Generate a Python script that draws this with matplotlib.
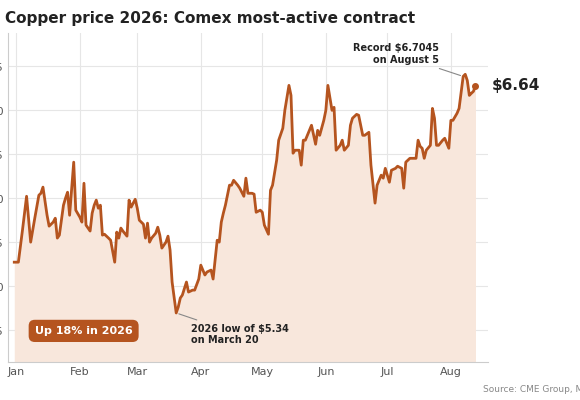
import numpy as np
import matplotlib.pyplot as plt

# trading day index (1 = Jan 2) and price in $/lb
days = [1, 3, 5, 7, 9, 11, 13, 14, 15, 17, 18, 20, 21, 22, 23, 25, 26, 27, 28, 30,
        31, 33, 34, 35, 36, 38, 39, 40, 41, 42, 43, 44, 45, 47, 48, 50, 51, 52, 53, 54,
        56, 57, 58, 60, 61, 62, 64, 65, 66, 67, 68, 70, 71, 72, 73, 75, 76, 77, 78, 80,
        81, 82, 83, 85, 86, 88, 89, 91, 92, 94, 95, 97, 98, 100, 101, 102, 103, 104, 106, 107,
        108, 110, 111, 113, 114, 115, 117, 118, 119, 121, 122, 123, 125, 126, 127, 129, 130, 132, 133, 135,
        136, 137, 138, 140, 141, 142, 143, 145, 146, 148, 149, 150, 152, 153, 154, 156, 157, 158, 160, 161,
        162, 164, 165, 166, 168, 169, 171, 172, 174, 175, 177, 178, 180, 181, 182, 184, 185, 187, 188, 190,
        191, 192, 194, 195, 197, 198, 199, 200, 201, 202, 204, 205, 206, 207, 208, 210, 211, 213, 214, 215,
        217, 218, 220, 221, 222, 223, 224, 225, 226]
price = [5.636, 5.636, 5.818, 6.011, 5.750, 5.886, 6.017, 6.028, 6.063, 5.903, 5.841, 5.864, 5.886, 5.773, 5.790, 5.960, 6.000, 6.034, 5.903, 6.205,
         5.932, 5.892, 5.864, 6.085, 5.847, 5.813, 5.915, 5.960, 5.989, 5.943, 5.960, 5.790, 5.795, 5.773, 5.761, 5.636, 5.807, 5.773, 5.830, 5.813,
         5.784, 5.989, 5.949, 5.994, 5.943, 5.875, 5.852, 5.773, 5.858, 5.750, 5.773, 5.801, 5.835, 5.790, 5.716, 5.750, 5.784, 5.705, 5.523, 5.347,
         5.381, 5.432, 5.449, 5.523, 5.466, 5.477, 5.477, 5.540, 5.619, 5.563, 5.580, 5.591, 5.540, 5.761, 5.750, 5.864, 5.915, 5.960, 6.074, 6.074,
         6.102, 6.074, 6.057, 6.011, 6.114, 6.028, 6.028, 6.023, 5.920, 5.932, 5.920, 5.847, 5.795, 6.045, 6.074, 6.216, 6.330, 6.398, 6.500, 6.642,
         6.585, 6.256, 6.273, 6.273, 6.188, 6.330, 6.330, 6.386, 6.415, 6.307, 6.386, 6.358, 6.443, 6.500, 6.642, 6.500, 6.517, 6.273, 6.301, 6.330,
         6.273, 6.301, 6.415, 6.455, 6.477, 6.472, 6.358, 6.358, 6.375, 6.188, 5.972, 6.074, 6.131, 6.114, 6.170, 6.091, 6.159, 6.170, 6.182, 6.170,
         6.057, 6.205, 6.227, 6.227, 6.227, 6.330, 6.295, 6.284, 6.227, 6.273, 6.301, 6.511, 6.455, 6.301, 6.301, 6.330, 6.341, 6.284, 6.443, 6.443,
         6.483, 6.511, 6.693, 6.705, 6.670, 6.585, 6.597, 6.608, 6.640]

month_pos = [2, 33, 61, 92, 122, 153, 183, 214]
month_labels = ['Jan', 'Feb', 'Mar', 'Apr', 'May', 'Jun', 'Jul', 'Aug']
yticks = [5.25, 5.5, 5.75, 6.0, 6.25, 6.5, 6.75]

line_c = '#b5541f'
fill_c = '#f8e7dc'

fig = plt.figure(figsize=(5.8, 4), dpi=100)
ax = fig.add_axes([0.014, 0.095, 0.827, 0.8225])

ax.fill_between(days, price, 5.0, color=fill_c, lw=0)
ax.plot(days, price, color=line_c, lw=2)
ax.plot(days[-1], price[-1], 'o', color=line_c, ms=4)

ax.set_xlim(-2, 232)
ax.set_ylim(5.068, 6.94)
ax.set_xticks(month_pos, month_labels)
ax.set_yticks(yticks, [f'${v:.2f}' for v in yticks])
ax.tick_params(length=0, colors='#555555', labelsize=8)
ax.grid(True, color='#e6e6e6', lw=0.8)
ax.set_axisbelow(True)
for s in ['top', 'right']:
    ax.spines[s].set_visible(False)
for s in ['left', 'bottom']:
    ax.spines[s].set_color('#cccccc')

ax.annotate('Record $6.7045\non August 5', xy=(days[-7], price[-7]), xytext=(208, 6.82),
            ha='right', va='center', fontsize=7, fontweight='bold', color='#222222',
            arrowprops=dict(arrowstyle='-', color='#888888', lw=0.8), annotation_clip=False)
ax.annotate('2026 low of $5.34\non March 20', xy=(days[59], price[59]), xytext=(87, 5.225),
            ha='left', va='center', fontsize=7, fontweight='bold', color='#222222',
            arrowprops=dict(arrowstyle='-', color='#888888', lw=0.8))
ax.text(234, price[-1], '$6.64', fontsize=11, fontweight='bold', color='#222222',
        va='center', ha='left', clip_on=False)
ax.text(11, 5.245, 'Up 18% in 2026', fontsize=8, fontweight='bold', color='white', va='center',
        bbox=dict(boxstyle='round,pad=0.55', fc=line_c, ec='none'))

fig.text(0.008, 0.955, 'Copper price 2026: Comex most-active contract', fontsize=11,
         fontweight='bold', color='#222222', va='center')
fig.text(0.832, 0.025, 'Source: CME Group, MINING.COM', fontsize=6.5, color='#888888', va='center')

fig.savefig('out.png', dpi=100)
